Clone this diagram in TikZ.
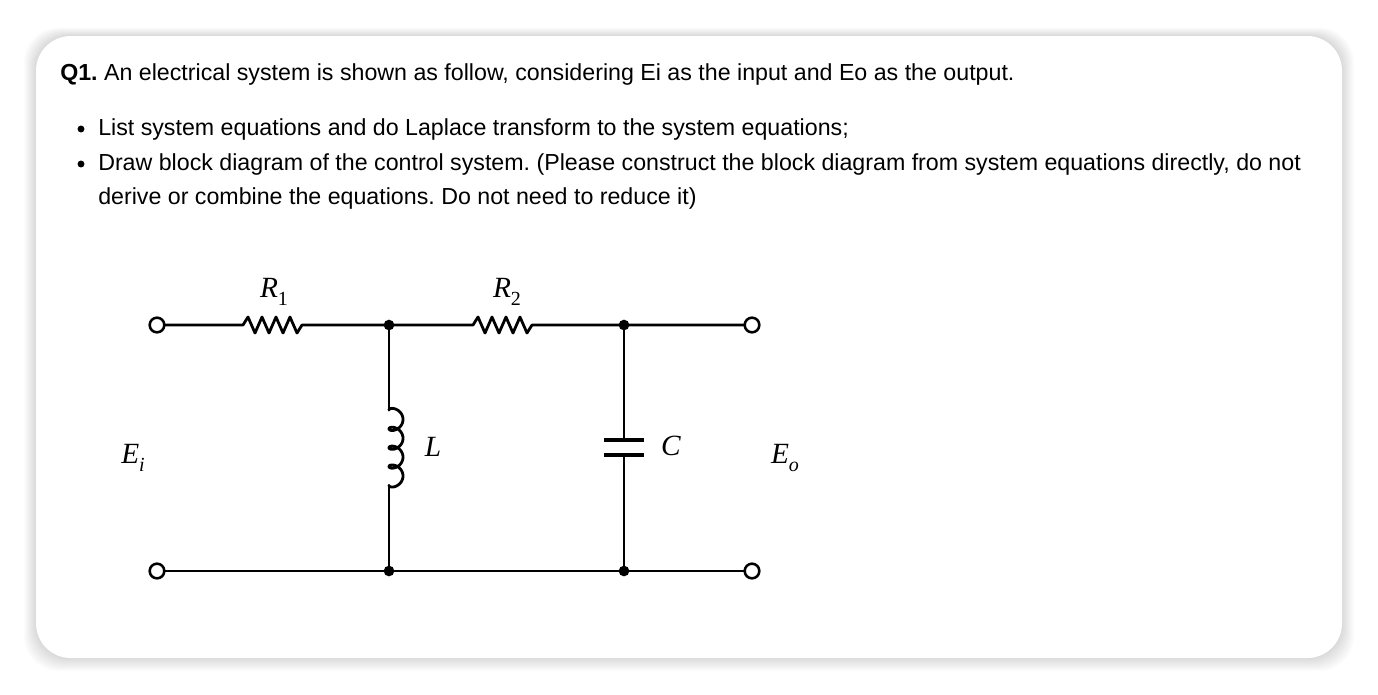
\documentclass[tikz,border=0pt]{standalone}
\usepackage{fontspec}
\setmainfont{Liberation Sans}
\newfontfamily\ser{Liberation Serif}
\frenchspacing
\begin{document}
\begin{tikzpicture}[x=0.75pt,y=-0.75pt,
  wire/.style={line width=2.1pt,line cap=round,line join=round},
  term/.style={circle,draw,line width=1.9pt,fill=white,minimum size=11pt,inner sep=0pt},
  junc/.style={circle,fill=black,minimum size=8pt,inner sep=0pt},
  txt/.style={anchor=base west,inner sep=0pt,font=\fontsize{17.4}{20}\selectfont},
  lab/.style={inner sep=0pt,font=\ser\fontsize{22}{26}\selectfont}]
\useasboundingbox (0,0) rectangle (1378,694);
\fill[white] (0,0) rectangle (1378,694);
\foreach \i in {1,...,12}
  \fill[black,opacity=0.012,rounded corners=26pt] (36-\i,36-\i*0.7) rectangle (1342+\i,658+\i*1.1);
\fill[white,rounded corners=26pt] (36,36) rectangle (1342,658);
\node[txt] (t1) at (60,80) {\textbf{Q1.} An electrical system is shown as follow, considering Ei as the input and Eo as the output.};
\node[txt] (b1) at (98,135) {List system equations and do Laplace transform to the system equations;};
\node[txt] (b2) at (98,170) {Draw block diagram of the control system. (Please construct the block diagram from system equations directly, do not};
\node[txt] (b3) at (98,204) {derive or combine the equations. Do not need to reduce it)};
\fill (81,129) circle (2.6pt);
\fill (81,164) circle (2.6pt);
% circuit
\coordinate (a1) at (157,325); \coordinate (a2) at (157,571);
\coordinate (o1) at (752,325); \coordinate (o2) at (752,571);
\coordinate (j1) at (389,325); \coordinate (j2) at (624,325);
\coordinate (j3) at (389,571); \coordinate (j4) at (624,571);
\coordinate (r1a) at (243,325); \coordinate (r1b) at (302,325);
\coordinate (r2a) at (473,325); \coordinate (r2b) at (532,325);
\draw[wire] (a1) -- (r1a) -- ++(5,-8) -- ++(7,16) -- ++(7,-16) -- ++(7,16) -- ++(7,-16) -- ++(7,16) -- ++(7,-16) -- ++(7,16) -- (r1b) -- (j1) -- (r2a)
  -- ++(5,-8) -- ++(7,16) -- ++(7,-16) -- ++(7,16) -- ++(7,-16) -- ++(7,16) -- ++(7,-16) -- ++(7,16) -- (r2b) -- (o1);
\draw[wire] (a2) -- (o2);
\draw[wire] (j1) -- (389,410);
\draw[wire] plot[domain=0:1440,samples=240,smooth] ({389+7*(1-cos(\x))},{410+3.0*\x*3.14159/180-5.5*sin(\x)});
\draw[wire] (389,485.4) -- (j3);
\draw[wire] (j2) -- (624,440); \draw[wire] (624,455) -- (j4);
\draw[line width=3pt] (604,440) -- (644,440);
\draw[line width=3pt] (604,455) -- (644,455);
\foreach \p in {j1,j2,j3,j4} \node[junc] at (\p) {};
\foreach \p in {a1,a2,o1,o2} \node[term] at (\p) {};
\node[lab] (lr1) at (274,292) {\textit{R}\raisebox{-0.25em}{\fontsize{15}{18}\selectfont 1}};
\node[lab] (lr2) at (507,292) {\textit{R}\raisebox{-0.25em}{\fontsize{15}{18}\selectfont 2}};
\node[lab] (ll) at (433,447) {\textit{L}};
\node[lab] (lc) at (671,446) {\textit{C}};
\node[lab] (lei) at (133,458) {\textit{E}\raisebox{-0.25em}{\fontsize{15}{18}\selectfont\textit{i}}};
\node[lab] (leo) at (785,458) {\textit{E}\raisebox{-0.25em}{\fontsize{15}{18}\selectfont\textit{o}}};
\end{tikzpicture}
\end{document}
